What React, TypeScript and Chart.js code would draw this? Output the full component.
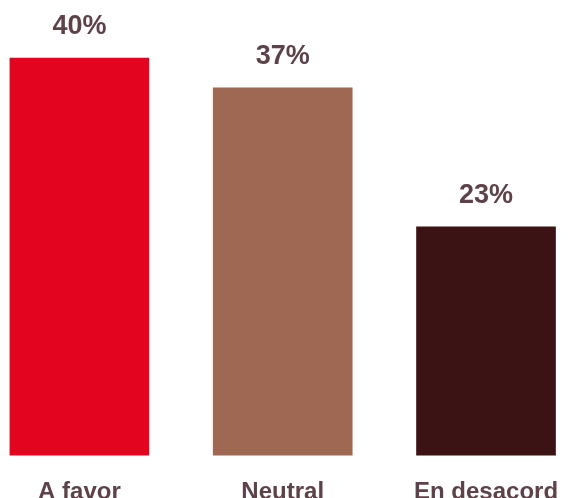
import { useEffect, useRef } from 'react';
import { Chart, registerables } from 'chart.js';

Chart.register(...registerables);

const categories = ['A favor', 'Neutral', 'En desacord'];
const values = [40, 37, 23];
const barColors = ['#e3051f', '#9f6853', '#3c1315'];
const valueSuffix = '%';

const FONT = '"Liberation Sans", Arial, Helvetica, sans-serif';
const TEXT_COLOR = '#5d4249';

export default function App() {
  const ref = useRef<HTMLCanvasElement>(null);

  useEffect(() => {
    const labelPlugin = {
      id: 'valueLabels',
      afterDatasetsDraw(chart: any) {
        const ctx = chart.ctx;
        const meta = chart.getDatasetMeta(0);
        ctx.save();
        ctx.font = `bold 27px ${FONT}`;
        ctx.fillStyle = TEXT_COLOR;
        ctx.textAlign = 'center';
        ctx.textBaseline = 'alphabetic';
        meta.data.forEach((el: any, i: number) => {
          ctx.fillText(values[i] + valueSuffix, el.x, el.y - 24);
        });
        ctx.restore();
      },
    };

    const chart = new Chart(ref.current!, {
      type: 'bar',
      data: {
        datasets: [
          {
            data: values.map((v, i) => ({ x: i, y: v })),
            backgroundColor: barColors,
            barThickness: 139,
            clip: false,
          } as any,
        ],
      },
      options: {
        animation: false,
        responsive: true,
        maintainAspectRatio: false,
        layout: { padding: 0 },
        plugins: { legend: { display: false }, tooltip: { enabled: false } },
        scales: {
          x: {
            type: 'linear',
            offset: false,
            min: -0.3906,
            max: 2.418,
            grid: { display: false, drawTicks: false, offset: false },
            border: { display: false },
            afterBuildTicks: (s: any) => {
              s.ticks = categories.map((_, i) => ({ value: i }));
            },
            afterFit: (s: any) => {
              s.paddingLeft = 0;
              s.paddingRight = 0;
            },
            ticks: {
              padding: 23,
              maxRotation: 0,
              autoSkip: false,
              color: TEXT_COLOR,
              font: { family: FONT, size: 24, weight: 'bold' },
              callback: (v: any) => categories[v as number] ?? '',
            },
          },
          y: { display: false, min: 0, max: 45.84 },
        },
      } as any,
      plugins: [labelPlugin],
    });
    return () => chart.destroy();
  }, []);

  return (
    <div style={{ position: 'fixed', left: 0, top: 0, width: 571, height: 498, overflow: 'hidden', background: '#fff' }}>
      <div style={{ position: 'relative', width: 571, height: 530 }}>
        <canvas ref={ref} />
      </div>
    </div>
  );
}
